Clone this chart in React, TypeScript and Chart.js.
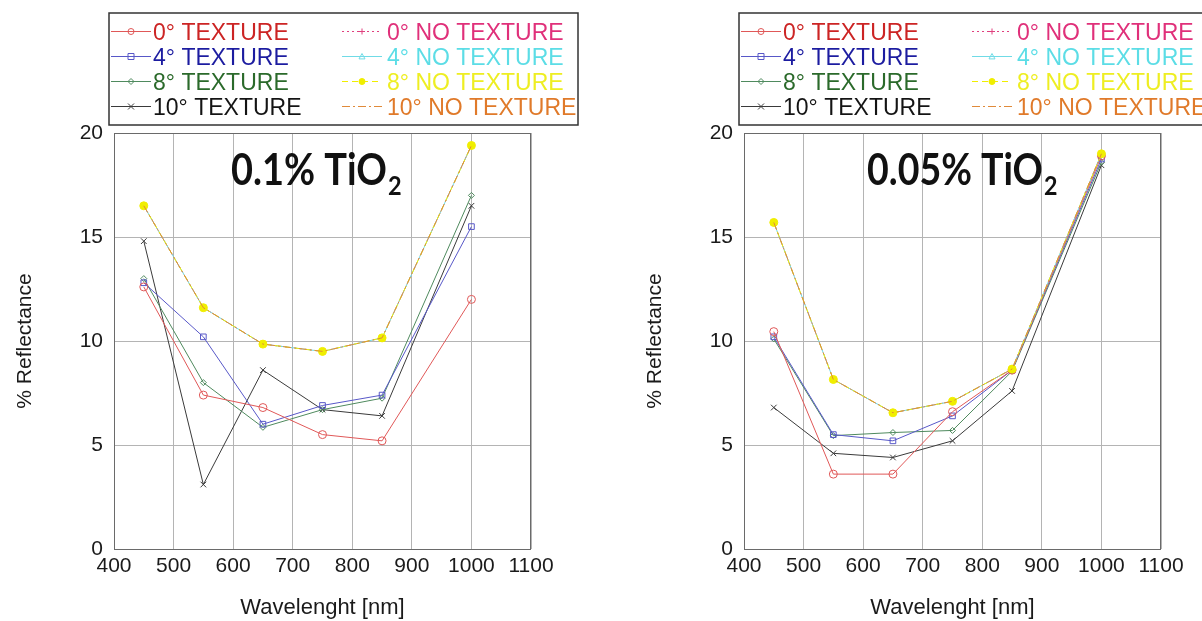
import React, { useEffect, useRef } from "react";
import { Chart, registerables } from "chart.js";

Chart.register(...registerables);

// ---------- data ----------
const wavelengths = [450, 550, 650, 750, 850, 1000];
const xTickValues = [400, 500, 600, 700, 800, 900, 1000, 1100];
const yTickValues = [0, 5, 10, 15, 20];

const seriesLabels = [
  "0° TEXTURE",
  "4° TEXTURE",
  "8° TEXTURE",
  "10° TEXTURE",
  "0° NO TEXTURE",
  "4° NO TEXTURE",
  "8° NO TEXTURE",
  "10° NO TEXTURE",
];

// Panel A: 0.1% TiO2
const a_tex0 = [12.6, 7.4, 6.8, 5.5, 5.2, 12.0];
const a_tex4 = [12.8, 10.2, 6.0, 6.9, 7.4, 15.5];
const a_tex8 = [13.0, 8.0, 5.85, 6.7, 7.25, 17.0];
const a_tex10 = [14.8, 3.1, 8.6, 6.7, 6.4, 16.5];
const a_no0 = [16.5, 11.6, 9.85, 9.5, 10.15, 19.4];
const a_no4 = [16.5, 11.6, 9.85, 9.5, 10.15, 19.4];
const a_no8 = [16.5, 11.6, 9.85, 9.5, 10.15, 19.4];
const a_no10 = [16.5, 11.6, 9.85, 9.5, 10.15, 19.4];

// Panel B: 0.05% TiO2
const b_tex0 = [10.45, 3.6, 3.6, 6.6, 8.6, 18.9];
const b_tex4 = [10.2, 5.5, 5.2, 6.4, 8.6, 18.75];
const b_tex8 = [10.1, 5.45, 5.6, 5.7, 8.55, 18.6];
const b_tex10 = [6.8, 4.6, 4.4, 5.2, 7.6, 18.45];
const b_no0 = [15.7, 8.15, 6.55, 7.1, 8.65, 19.0];
const b_no4 = [15.7, 8.15, 6.55, 7.1, 8.65, 19.0];
const b_no8 = [15.7, 8.15, 6.55, 7.1, 8.65, 19.0];
const b_no10 = [15.7, 8.15, 6.55, 7.1, 8.65, 19.0];

const panelA = [a_tex0, a_tex4, a_tex8, a_tex10, a_no0, a_no4, a_no8, a_no10];
const panelB = [b_tex0, b_tex4, b_tex8, b_tex10, b_no0, b_no4, b_no8, b_no10];

// ---------- styles ----------
type Sty = {
  line: string;
  text: string;
  dash: number[];
  marker: string;
  radius: number;
  filled: boolean;
  order: number;
};
const styles: Sty[] = [
  { line: "#e05858", text: "#cc2424", dash: [], marker: "circle", radius: 4, filled: false, order: 5 },
  { line: "#5858c8", text: "#1c1ca0", dash: [], marker: "rect", radius: 4, filled: false, order: 6 },
  { line: "#4f8a5e", text: "#2b6a2b", dash: [], marker: "rectRot", radius: 3, filled: false, order: 7 },
  { line: "#3a3a3a", text: "#141414", dash: [], marker: "crossRot", radius: 4, filled: false, order: 8 },
  { line: "#e0407f", text: "#e0307a", dash: [2, 3], marker: "cross", radius: 3, filled: false, order: 4 },
  { line: "#70dbe6", text: "#5cdde6", dash: [], marker: "triangle", radius: 3, filled: false, order: 3 },
  { line: "#f0ee00", text: "#eeee22", dash: [6, 4], marker: "circle", radius: 4, filled: true, order: 2 },
  { line: "#e08a3a", text: "#e07a2a", dash: [8, 3, 2, 3], marker: "line", radius: 0, filled: false, order: 1 },
];

const FONT = "'Liberation Sans', Arial, sans-serif";

function drawMarker(ctx: CanvasRenderingContext2D, kind: string, x: number, y: number, r: number, color: string, filled: boolean) {
  if (r <= 0 || kind === "line") return;
  ctx.save();
  ctx.setLineDash([]);
  ctx.strokeStyle = color;
  ctx.fillStyle = color;
  ctx.lineWidth = 1;
  ctx.beginPath();
  if (kind === "circle") ctx.arc(x, y, r, 0, Math.PI * 2);
  else if (kind === "rect") ctx.rect(x - r, y - r, 2 * r, 2 * r);
  else if (kind === "rectRot") {
    ctx.moveTo(x, y - r); ctx.lineTo(x + r, y); ctx.lineTo(x, y + r); ctx.lineTo(x - r, y); ctx.closePath();
  } else if (kind === "crossRot") {
    ctx.moveTo(x - r, y - r); ctx.lineTo(x + r, y + r); ctx.moveTo(x + r, y - r); ctx.lineTo(x - r, y + r);
  } else if (kind === "cross") {
    ctx.moveTo(x - r, y); ctx.lineTo(x + r, y); ctx.moveTo(x, y - r); ctx.lineTo(x, y + r);
  } else if (kind === "triangle") {
    ctx.moveTo(x, y - r); ctx.lineTo(x + r, y + r * 0.8); ctx.lineTo(x - r, y + r * 0.8); ctx.closePath();
  }
  if (filled) ctx.fill();
  ctx.stroke();
  ctx.restore();
}

function makeConfig(values: number[][], titleMain: string, titleDx: number, titleWidth: number, canvasWidth: number): any {
  const plotRight = 531;
  const datasets = values.map((ys, i) => {
    const s = styles[i];
    return {
      label: seriesLabels[i],
      data: wavelengths.map((x, j) => ({ x, y: ys[j] })),
      borderColor: s.line,
      backgroundColor: s.filled ? s.line : "rgba(0,0,0,0)",
      borderWidth: 1,
      borderDash: s.dash,
      pointStyle: s.marker === "line" ? "circle" : s.marker,
      pointRadius: s.radius,
      pointBorderColor: s.line,
      pointBackgroundColor: s.filled ? s.line : "rgba(0,0,0,0)",
      pointBorderWidth: 1,
      tension: 0,
      fill: false,
      order: s.order,
    };
  });

  const framePlugin = {
    id: "frame",
    beforeDatasetsDraw(chart: any) {
      const { ctx, chartArea: a } = chart;
      ctx.save();
      ctx.strokeStyle = "#6a6a6a";
      ctx.lineWidth = 1;
      ctx.strokeRect(a.left + 0.5, a.top + 0.5, a.right - a.left - 1, a.bottom - a.top);
      ctx.restore();
    },
  };

  const overlayPlugin = {
    id: "overlay",
    afterDraw(chart: any) {
      const { ctx, chartArea: a } = chart;
      // Title with subscript
      ctx.save();
      ctx.fillStyle = "#111";
      ctx.textBaseline = "alphabetic";
      ctx.font = `bold 40px Lato, 'Open Sans', sans-serif`;
      const w40 = ctx.measureText(titleMain).width;
      const size = (40 * titleWidth) / w40;
      ctx.font = `bold ${size}px Lato, 'Open Sans', sans-serif`;
      const scaleY = 32 / (size * 0.72);
      ctx.translate(a.left + titleDx, 185);
      ctx.scale(1, scaleY);
      ctx.fillText(titleMain, 0, 0);
      const w = ctx.measureText(titleMain).width;
      ctx.font = `bold ${size * 0.62}px Lato, 'Open Sans', sans-serif`;
      ctx.fillText("2", w + 1, 10 / scaleY);
      ctx.restore();

      // Legend
      ctx.save();
      const bx = 109, by = 13, bw = 469, bh = 112;
      ctx.fillStyle = "#ffffff";
      ctx.fillRect(bx, by, bw, bh);
      ctx.strokeStyle = "#333";
      ctx.lineWidth = 1.5;
      ctx.strokeRect(bx, by, bw, bh);
      ctx.font = `23px ${FONT}`;
      ctx.textBaseline = "alphabetic";
      for (let i = 0; i < 8; i++) {
        const col = i < 4 ? 0 : 1;
        const row = i % 4;
        const s = styles[i];
        const baseY = 40 + row * 25;
        const cy = baseY - 8.5;
        const lx0 = col === 0 ? 111 : 342;
        const lx1 = lx0 + 40;
        const tx = col === 0 ? 153 : 387;
        ctx.save();
        ctx.strokeStyle = s.line;
        ctx.lineWidth = 1;
        ctx.setLineDash(s.dash);
        ctx.beginPath();
        ctx.moveTo(lx0, cy);
        ctx.lineTo(lx1, cy);
        ctx.stroke();
        ctx.restore();
        drawMarker(ctx, s.marker, (lx0 + lx1) / 2, cy, Math.min(s.radius, 3), s.line, s.filled);
        ctx.fillStyle = s.text;
        ctx.fillText(seriesLabels[i], tx, baseY);
      }
      ctx.restore();
    },
  };

  return {
    type: "line",
    data: { datasets },
    plugins: [framePlugin, overlayPlugin],
    options: {
      animation: false,
      responsive: false,
      devicePixelRatio: 1,
      layout: { padding: { top: 133, right: canvasWidth - plotRight, left: 0, bottom: 0 } },
      plugins: { legend: { display: false }, tooltip: { enabled: false }, title: { display: false } },
      scales: {
        x: {
          type: "linear",
          min: 400,
          max: 1100,
          afterBuildTicks: (scale: any) => {
            scale.ticks = xTickValues.map((v) => ({ value: v }));
          },
          afterFit: (scale: any) => {
            scale.height = 72;
          },
          ticks: {
            font: { family: FONT, size: 21 },
            color: "#1a1a1a",
            padding: 5,
            maxRotation: 0,
            autoSkip: false,
            callback: (v: any) => String(v),
          },
          grid: { color: "#b4b4b4", lineWidth: 1, drawTicks: false },
          border: { display: false },
          title: {
            display: true,
            text: "Wavelenght [nm]",
            font: { family: FONT, size: 22, lineHeight: 1.15 },
            color: "#1a1a1a",
            padding: { top: 0, bottom: 0 },
          },
        },
        y: {
          type: "linear",
          min: 0,
          max: 20,
          afterBuildTicks: (scale: any) => {
            scale.ticks = yTickValues.map((v) => ({ value: v }));
          },
          afterFit: (scale: any) => {
            scale.width = 114;
          },
          ticks: { font: { family: FONT, size: 21 }, color: "#1a1a1a", padding: 11, callback: (v: any) => String(v) },
          grid: { color: "#b4b4b4", lineWidth: 1, drawTicks: false },
          border: { display: false },
          title: {
            display: true,
            text: "% Reflectance",
            font: { family: FONT, size: 21 },
            color: "#1a1a1a",
            padding: { top: 13, bottom: 0 },
          },
        },
      },
    },
  };
}

function Panel(props: { values: number[][]; title: string; titleDx: number; titleWidth: number; left: number; width: number }) {
  const ref = useRef<HTMLCanvasElement>(null);
  useEffect(() => {
    const chart = new Chart(ref.current as HTMLCanvasElement, makeConfig(props.values, props.title, props.titleDx, props.titleWidth, props.width));
    return () => chart.destroy();
  }, []);
  return (
    <div style={{ position: "absolute", left: props.left, top: 0, width: props.width, height: 621 }}>
      <canvas ref={ref} width={props.width} height={621} style={{ display: "block", width: props.width, height: 621 }} />
    </div>
  );
}

export default function App() {
  return (
    <div style={{ position: "absolute", left: 0, top: 0, width: 1202, height: 621, overflow: "hidden", background: "#fff" }}>
      <Panel values={panelA} title="0.1% TiO" titleDx={117} titleWidth={156} left={0} width={630} />
      <Panel values={panelB} title="0.05% TiO" titleDx={123} titleWidth={176} left={630} width={572} />
    </div>
  );
}
